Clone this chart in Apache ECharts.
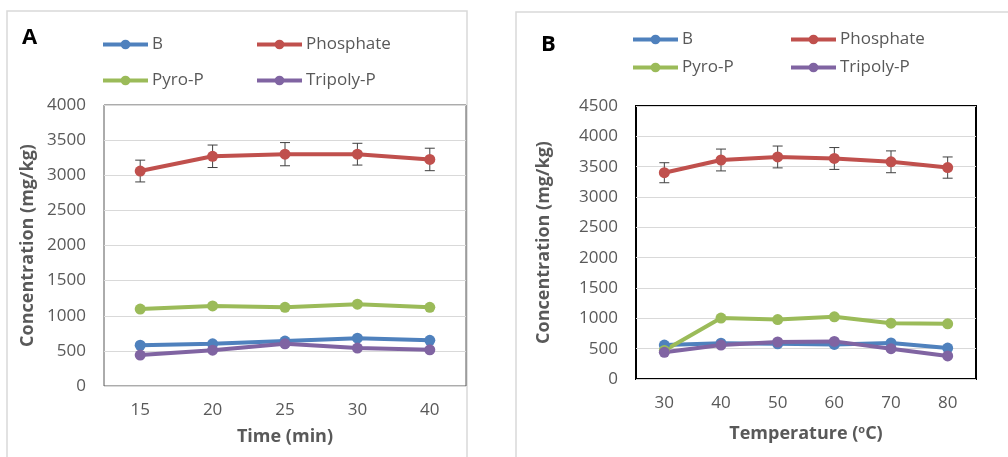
<!DOCTYPE html>
<html>
<head>
<meta charset="utf-8">
<script src="https://cdn.jsdelivr.net/npm/echarts@6/dist/echarts.min.js"></script>
<style>
  html, body { margin: 0; padding: 0; background: #fff; }
  #chart { width: 1008px; height: 457px; }
</style>
</head>
<body>
<div id="chart"></div>
<script>
// panel A - time
const catA = ['15', '20', '25', '30', '40']
const bA = [580, 600, 640, 680, 650]
const phosA = [3060, 3270, 3300, 3300, 3225]
const phosErrA = [155, 160, 165, 155, 160]
const pyroA = [1095, 1140, 1120, 1165, 1120]
const triA = [440, 510, 600, 540, 515]

// panel B - temperature
const catB = ['30', '40', '50', '60', '70', '80']
const bB = [560, 590, 580, 570, 595, 510]
const phosB = [3400, 3610, 3660, 3635, 3580, 3485]
const phosErrB = [165, 180, 180, 180, 180, 175]
const pyroB = [470, 1005, 980, 1025, 920, 910]
const triB = [440, 560, 610, 620, 500, 380]

const colors = { 'B': '#4F81BD', 'Phosphate': '#C0504D', 'Pyro-P': '#9BBB59', 'Tripoly-P': '#8064A2' }
const font = 'Open Sans'
const grey = '#595959'

function lineSeries(name, data, idx) {
  return {
    name: name,
    type: 'line',
    xAxisIndex: idx,
    yAxisIndex: idx,
    data: data,
    symbol: 'circle',
    symbolSize: 11,
    color: colors[name],
    lineStyle: { width: 4, color: colors[name] },
    itemStyle: { color: colors[name] },
    z: 3
  }
}

function errSeries(vals, errs, idx) {
  const data = vals.map((v, i) => [i, v - errs[i], v + errs[i]])
  return {
    name: 'err' + idx,
    type: 'custom',
    xAxisIndex: idx,
    yAxisIndex: idx,
    data: data,
    z: 2,
    renderItem(params, api) {
      const lo = api.coord([api.value(0), api.value(1)])
      const hi = api.coord([api.value(0), api.value(2)])
      const w = 5
      const style = { stroke: '#404040', lineWidth: 1 }
      return {
        type: 'group',
        children: [
          { type: 'line', shape: { x1: hi[0], y1: hi[1], x2: lo[0], y2: lo[1] }, style },
          { type: 'line', shape: { x1: hi[0] - w, y1: hi[1], x2: hi[0] + w, y2: hi[1] }, style },
          { type: 'line', shape: { x1: lo[0] - w, y1: lo[1], x2: lo[0] + w, y2: lo[1] }, style }
        ]
      }
    }
  }
}

function legend(left, top, names, gap) {
  return {
    left: left,
    top: top,
    padding: 0,
    orient: 'vertical',
    data: names,
    itemWidth: 45,
    itemHeight: 12,
    itemGap: gap,
    lineStyle: { width: 4 },
    textStyle: { color: grey, fontSize: 17, fontFamily: font, padding: [0, 0, 0, -1] }
  }
}

const axisLabel = { color: grey, fontSize: 17, fontFamily: font, formatter: v => String(v) }
const nameStyle = { color: grey, fontSize: 18, fontWeight: 'bold', fontFamily: font }

const option = {
  animation: false,
  textStyle: { fontFamily: font },
  title: [
    { text: 'A', left: 22, top: 27, padding: 0, textStyle: { fontSize: 22, fontWeight: 'bold', color: '#000', fontFamily: font } },
    { text: 'B', left: 541, top: 34, padding: 0, textStyle: { fontSize: 22, fontWeight: 'bold', color: '#000', fontFamily: font } }
  ],
  graphic: [
    { type: 'rect', shape: { x: 7, y: 11, width: 460, height: 460 }, style: { fill: 'none', stroke: '#d9d9d9', lineWidth: 1.5 }, z: -1 },
    { type: 'rect', shape: { x: 516, y: 12, width: 500, height: 460 }, style: { fill: 'none', stroke: '#d9d9d9', lineWidth: 1.5 }, z: -1 }
  ],
  legend: [
    legend(101, 36, ['B', 'Pyro-P'], 19),
    legend(255, 36, ['Phosphate', 'Tripoly-P'], 19),
    legend(631, 31, ['B', 'Pyro-P'], 11),
    legend(789, 31, ['Phosphate', 'Tripoly-P'], 11)
  ],
  grid: [
    { left: 104, top: 105, right: 542, bottom: 71, show: true, borderColor: '#595959', borderWidth: 1 },
    { left: 636, top: 106, right: 32, bottom: 78, show: true, borderColor: '#000', borderWidth: 2 }
  ],
  xAxis: [
    {
      gridIndex: 0, type: 'category', data: catA, boundaryGap: true,
      axisLine: { show: false }, axisTick: { show: false },
      axisLabel: Object.assign({ margin: 16 }, axisLabel),
      name: 'Time (min)', nameLocation: 'middle', nameGap: 42, nameTextStyle: nameStyle
    },
    {
      gridIndex: 1, type: 'category', data: catB, boundaryGap: true,
      axisLine: { show: false }, axisTick: { show: false },
      axisLabel: Object.assign({ margin: 16 }, axisLabel),
      name: 'Temperature ({sup|o}C)', nameLocation: 'middle', nameGap: 45,
      nameTextStyle: Object.assign({
        rich: { sup: { fontSize: 11, fontWeight: 'bold', color: grey, fontFamily: font, verticalAlign: 'top', padding: [0, 0, 9, 0] } }
      }, nameStyle)
    }
  ],
  yAxis: [
    {
      gridIndex: 0, type: 'value', min: 0, max: 4000, interval: 500,
      axisLine: { show: false }, axisTick: { show: false },
      axisLabel: Object.assign({ margin: 18 }, axisLabel),
      splitLine: { lineStyle: { color: '#d9d9d9' } },
      name: 'Concentration (mg/kg)', nameLocation: 'middle', nameGap: 67, nameTextStyle: nameStyle
    },
    {
      gridIndex: 1, type: 'value', min: 0, max: 4500, interval: 500,
      axisLine: { show: false }, axisTick: { show: false },
      axisLabel: Object.assign({ margin: 18 }, axisLabel),
      splitLine: { lineStyle: { color: '#d9d9d9' } },
      name: 'Concentration (mg/kg)', nameLocation: 'middle', nameGap: 83, nameTextStyle: nameStyle
    }
  ],
  series: [
    lineSeries('B', bA, 0),
    errSeries(phosA, phosErrA, 0),
    lineSeries('Phosphate', phosA, 0),
    lineSeries('Pyro-P', pyroA, 0),
    lineSeries('Tripoly-P', triA, 0),
    lineSeries('B', bB, 1),
    errSeries(phosB, phosErrB, 1),
    lineSeries('Phosphate', phosB, 1),
    lineSeries('Pyro-P', pyroB, 1),
    lineSeries('Tripoly-P', triB, 1)
  ]
}

const myChart = echarts.init(document.getElementById('chart'), null, { renderer: 'canvas' })
myChart.setOption(option)
</script>
</body>
</html>
